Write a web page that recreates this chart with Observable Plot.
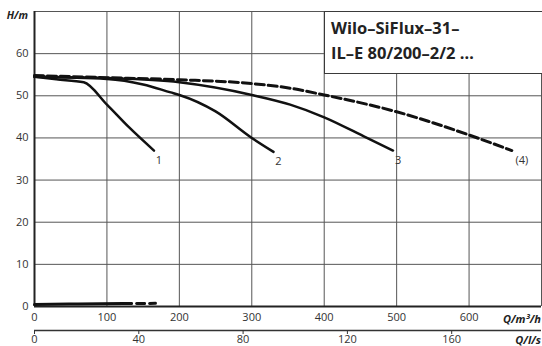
<!DOCTYPE html>
<html>
<head>
<meta charset="utf-8">
<script src="https://cdn.jsdelivr.net/npm/d3@7"></script>
<script src="https://cdn.jsdelivr.net/npm/@observablehq/plot@0.6"></script>
<style>
  body { margin: 0; background: #fff; }
  #chart { position: relative; width: 542px; height: 346px; overflow: hidden; font-family: "Open Sans", sans-serif; color: #333; }
  #chart svg { display: block; }
  .unit { position: absolute; font-weight: 700; font-style: italic; color: #222; white-space: nowrap; line-height: 1; }
  #box { position: absolute; left: 324px; top: 11px; width: 218px; height: 63px; box-sizing: border-box;
         border: 1.5px solid #3a3a3a; border-right: none; background: #fff; padding: 3px 0 0 6px;
         font-weight: 700; font-size: 16.5px; line-height: 25px; color: #222; white-space: nowrap; }
</style>
</head>
<body>
<div id="chart"></div>
<script>
// Pump model
const model = ["Wilo–SiFlux–31–", "IL–E 80/200–2/2 …"];

// Axis ticks
const qTicks = [0, 100, 200, 300, 400, 500, 600];      // m³/h
const qGrid = [100, 200, 300, 400, 500, 600, 700];
const hTicks = [0, 10, 20, 30, 40, 50, 60];            // m
const lpsTicks = [0, 40, 80, 120, 160];                // l/s

// Head curves (Q in m³/h, H in m)
const curve1Q = [0, 30, 68, 100, 130, 165];
const curve1H = [54.5, 53.9, 53.2, 47.9, 42.6, 37.0];

const curve2Q = [0, 100, 150, 188, 200, 250, 300, 330];
const curve2H = [54.5, 54.0, 52.7, 50.8, 50.2, 46.3, 40.0, 36.7];

const curve3Q = [0, 100, 200, 300, 353, 400, 459, 495];
const curve3H = [54.5, 54.2, 53.2, 50.2, 47.9, 44.9, 40.0, 37.0];

const curve4Q = [0, 100, 200, 300, 353, 400, 500, 600, 659];
const curve4H = [54.8, 54.3, 53.8, 52.9, 51.8, 50.2, 46.2, 40.7, 37.0];

// Low curve along the base line: solid part, then dashed continuation
const baseQ = [0, 60, 123];
const baseH = [0.45, 0.6, 0.7];
const baseTailQ = [123, 167];
const baseTailH = [0.7, 0.75];

const series = (Q, H) => Q.map((q, i) => ({q, h: H[i]}));
const curves = [
  {name: "1", pts: series(curve1Q, curve1H), dashed: false, dx: 5},
  {name: "2", pts: series(curve2Q, curve2H), dashed: false, dx: 5},
  {name: "3", pts: series(curve3Q, curve3H), dashed: false, dx: 5},
  {name: "(4)", pts: series(curve4Q, curve4H), dashed: true, dx: 10}
];

const M3H_PER_LPS = 3.6;

const plot = Plot.plot({
  width: 542,
  height: 346,
  marginTop: 11,
  marginBottom: 40,
  marginLeft: 34,
  marginRight: 1,
  style: {fontFamily: "Open Sans, sans-serif", fontSize: "11px", color: "#333", background: "white", overflow: "visible"},
  x: {domain: [0, 700]},
  y: {domain: [0, 70]},
  marks: [
    Plot.gridX(qGrid, {stroke: "#555", strokeOpacity: 1, strokeWidth: 1}),
    Plot.gridY(hTicks.concat([70]), {stroke: "#555", strokeOpacity: 1, strokeWidth: 1}),
    Plot.ruleX([0], {stroke: "#222", strokeWidth: 2}),
    Plot.ruleY([0], {stroke: "#222", strokeWidth: 2}),
    Plot.axisX(qTicks, {tickSize: 0, tickPadding: 7, label: null, fill: "#333"}),
    Plot.axisY(hTicks, {tickSize: 0, tickPadding: 6, label: null, fill: "#333"}),
    // secondary flow axis in l/s
    Plot.ruleY([0], {dy: 24, stroke: "#333", strokeWidth: 1.5}),
    Plot.axisX(lpsTicks.map(v => v * M3H_PER_LPS), {
      dy: 24, tickSize: 4, tickPadding: 1, label: null, fill: "#333",
      tickFormat: v => Math.round(v / M3H_PER_LPS)
    }),
    // low curve near zero
    Plot.line(series(baseQ, baseH), {x: "q", y: "h", stroke: "#111", strokeWidth: 3, curve: "monotone-x"}),
    Plot.line(series(baseTailQ, baseTailH), {x: "q", y: "h", stroke: "#111", strokeWidth: 3, strokeDasharray: "8,5"}),
    // head curves and their numbers at the curve ends
    ...curves.flatMap(c => [
      Plot.line(c.pts, {
        x: "q", y: "h", stroke: "#111",
        strokeWidth: c.dashed ? 3 : 2.5,
        strokeDasharray: c.dashed ? "9,4" : null,
        curve: "monotone-x"
      }),
      Plot.text([c.pts[c.pts.length - 1]], {
        x: "q", y: "h", text: () => c.name, dx: c.dx, dy: 10, fill: "#333", fontSize: 11
      })
    ])
  ]
});

const chart = document.getElementById("chart");
chart.appendChild(plot);

const box = document.createElement("div");
box.id = "box";
box.innerHTML = model.join("<br>");
chart.appendChild(box);

function unit(text, right, centerY, size) {
  const s = document.createElement("span");
  s.className = "unit";
  s.innerHTML = text;
  s.style.fontSize = size + "px";
  s.style.right = (542 - right) + "px";
  s.style.top = (centerY - size / 2) + "px";
  chart.appendChild(s);
}
unit("H/m", 28, 15, 10.5);
unit("Q/m³/h", 541, 318, 11);
unit("Q/l/s", 541, 339, 11);
</script>
</body>
</html>
